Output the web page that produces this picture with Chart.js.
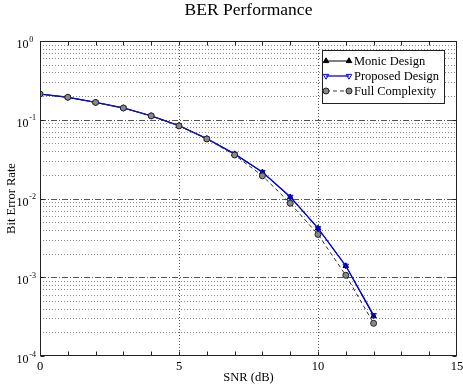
<!DOCTYPE html>
<html>
<head>
<meta charset="utf-8">
<script src="https://cdn.jsdelivr.net/npm/chart.js@4.4.1/dist/chart.umd.min.js"></script>
<style>
  html, body { margin: 0; padding: 0; background: #fff; }
  canvas { display: block; }
</style>
</head>
<body>
<canvas id="berChart" width="463" height="386"></canvas>
<script>
const snr = [0, 1, 2, 3, 4, 5, 6, 7, 8, 9, 10, 11, 12];
const monicBer = [0.212, 0.193, 0.166, 0.141, 0.112, 0.0839, 0.0574, 0.0367, 0.0215, 0.0104, 0.00418, 0.00139, 0.00032];
const proposedBer = [0.212, 0.193, 0.166, 0.141, 0.112, 0.0840, 0.0576, 0.0369, 0.0217, 0.0105, 0.00420, 0.00140, 0.00033];
const fullBer = [0.212, 0.193, 0.166, 0.141, 0.112, 0.0836, 0.0570, 0.0357, 0.0194, 0.0087, 0.00350, 0.00106, 0.00026];
const yExponents = [0, -1, -2, -3, -4];

const serif = "'Liberation Serif', 'Times New Roman', serif";

function toPoints(ys) {
  return snr.map((x, i) => ({ x: x, y: ys[i] }));
}

function hLine(ctx, x1, x2, y) {
  ctx.beginPath();
  ctx.moveTo(x1, y);
  ctx.lineTo(x2, y);
  ctx.stroke();
}

function vLine(ctx, x, y1, y2) {
  ctx.beginPath();
  ctx.moveTo(x, y1);
  ctx.lineTo(x, y2);
  ctx.stroke();
}

// matlab style grid, box, inward ticks and 10^n labels
const matlabAxes = {
  id: 'matlabAxes',
  beforeDatasetsDraw(chart) {
    const { ctx, chartArea: a, scales: { x, y } } = chart;
    ctx.save();
    ctx.lineWidth = 1;

    // minor log lines
    ctx.strokeStyle = '#8a8a8a';
    ctx.setLineDash([1, 2]);
    for (let e = -4; e < 0; e++) {
      for (let m = 2; m <= 9; m++) {
        const py = Math.round(y.getPixelForValue(m * Math.pow(10, e))) + 0.5;
        hLine(ctx, a.left, a.right, py);
      }
    }

    // decade lines
    ctx.strokeStyle = '#555';
    ctx.setLineDash([6, 2, 1, 2]);
    yExponents.forEach(e => {
      if (e === 0 || e === -4) return;
      const py = Math.round(y.getPixelForValue(Math.pow(10, e))) + 0.5;
      hLine(ctx, a.left, a.right, py);
    });

    // vertical major lines
    ctx.setLineDash([1, 2]);
    ctx.strokeStyle = '#555';
    x.ticks.forEach(t => {
      if (t.value <= x.min || t.value >= x.max) return;
      const px = Math.round(x.getPixelForValue(t.value)) + 0.5;
      vLine(ctx, px, a.top, a.bottom);
    });
    ctx.restore();
  },
  afterDatasetsDraw(chart) {
    const { ctx, chartArea: a, scales: { x, y } } = chart;
    ctx.save();
    ctx.setLineDash([]);
    ctx.strokeStyle = '#222';
    ctx.lineWidth = 1;
    const L = Math.round(a.left) + 0.5, R = Math.round(a.right) - 0.5;
    const T = Math.round(a.top) + 0.5, B = Math.round(a.bottom) - 0.5;
    ctx.strokeRect(L, T, R - L, B - T);

    // inward ticks
    for (let v = x.min + 1; v < x.max; v++) {
      const px = Math.round(x.getPixelForValue(v)) + 0.5;
      vLine(ctx, px, B, B - 4);
      vLine(ctx, px, T, T + 4);
    }
    yExponents.forEach(e => {
      const py = Math.round(y.getPixelForValue(Math.pow(10, e))) + 0.5;
      hLine(ctx, L, L + 4, py);
      hLine(ctx, R, R - 4, py);
    });

    // y labels 10^n
    ctx.fillStyle = '#000';
    ctx.textBaseline = 'alphabetic';
    yExponents.forEach(e => {
      const py = y.getPixelForValue(Math.pow(10, e));
      ctx.font = '12px ' + serif;
      ctx.textAlign = 'right';
      ctx.fillText('10', a.left - 11.5, py + 7);
      ctx.font = '8px ' + serif;
      ctx.textAlign = 'left';
      ctx.fillText(String(e), a.left - 10.7, py + 0.5);
    });
    ctx.restore();
  },
  afterDraw(chart) {
    const { ctx, chartArea: a } = chart;
    const bx = a.right - 135, by = a.top + 9, bw = 122, bh = 53;
    ctx.save();
    ctx.fillStyle = '#fff';
    ctx.fillRect(bx, by, bw, bh);
    ctx.strokeStyle = '#222';
    ctx.lineWidth = 1;
    ctx.setLineDash([]);
    ctx.strokeRect(Math.round(bx) + 0.5, Math.round(by) + 0.5, bw, bh);

    chart.data.datasets.forEach((ds, row) => {
      const ry = by + 11 + row * 15;
      const x1 = bx + 4, x2 = bx + 27;
      ctx.strokeStyle = ds.borderColor;
      ctx.lineWidth = ds.borderWidth;
      ctx.setLineDash(ds.borderDash || []);
      hLine(ctx, x1, x2, ry);
      ctx.setLineDash([]);
      [x1, x2].forEach(px => {
        ctx.fillStyle = ds.pointBackgroundColor;
        ctx.strokeStyle = ds.pointBorderColor;
        ctx.lineWidth = ds.pointBorderWidth;
        Chart.helpers.drawPoint(ctx, {
          pointStyle: ds.pointStyle,
          rotation: ds.pointRotation || 0,
          radius: ds.pointRadius,
          borderWidth: ds.pointBorderWidth
        }, px, ry);
      });
      ctx.fillStyle = '#000';
      ctx.font = '12.5px ' + serif;
      ctx.textAlign = 'left';
      ctx.textBaseline = 'middle';
      ctx.fillText(ds.label, bx + 32, ry + 0.5);
    });
    ctx.restore();
  }
};

const ctx = document.getElementById('berChart');
const berChart = new Chart(ctx, {
  type: 'line',
  data: {
    datasets: [
      {
        label: 'Monic Design',
        data: toPoints(monicBer),
        borderColor: '#000',
        backgroundColor: '#000',
        pointBackgroundColor: '#000',
        pointBorderColor: '#000',
        borderWidth: 1,
        pointStyle: 'triangle',
        pointRadius: 3.2,
        pointBorderWidth: 1,
        order: 3
      },
      {
        label: 'Proposed Design',
        data: toPoints(proposedBer),
        borderColor: '#0000ff',
        backgroundColor: 'rgba(255,255,255,0)',
        pointBackgroundColor: 'rgba(255,255,255,0)',
        pointBorderColor: '#0000ff',
        borderWidth: 1.3,
        pointStyle: 'triangle',
        pointRotation: 180,
        pointRadius: 3.2,
        pointBorderWidth: 1,
        order: 2
      },
      {
        label: 'Full Complexity',
        data: toPoints(fullBer),
        borderColor: '#333',
        backgroundColor: '#888',
        pointBackgroundColor: '#888',
        pointBorderColor: '#222',
        borderWidth: 1,
        borderDash: [4, 3],
        pointStyle: 'circle',
        pointRadius: 3,
        pointBorderWidth: 1,
        order: 1
      }
    ]
  },
  options: {
    responsive: false,
    animation: false,
    layout: { padding: { left: 0, right: 6, top: 0, bottom: 0 } },
    elements: { line: { tension: 0 } },
    plugins: {
      legend: { display: false },
      tooltip: { enabled: false },
      title: {
        display: true,
        text: 'BER Performance',
        fullSize: false,
        color: '#000',
        font: { family: serif, size: 17.5, weight: 'normal' },
        padding: { top: 0, bottom: 20 }
      }
    },
    scales: {
      x: {
        type: 'linear',
        min: 0,
        max: 15,
        grid: { display: false, drawTicks: false },
        border: { display: false },
        ticks: {
          stepSize: 5,
          color: '#000',
          padding: 3,
          maxRotation: 0,
          font: { family: serif, size: 12.5 }
        },
        title: {
          display: true,
          text: 'SNR (dB)',
          color: '#000',
          font: { family: serif, size: 12.5 },
          padding: { top: 0, bottom: 0.5 }
        },
        afterFit(s) { s.height = 30; s.paddingRight = 0; }
      },
      y: {
        type: 'logarithmic',
        min: 0.0001,
        max: 1,
        grid: { display: false, drawTicks: false },
        border: { display: false },
        ticks: { display: false },
        title: {
          display: true,
          text: 'Bit Error Rate',
          color: '#000',
          font: { family: serif, size: 12.5 },
          padding: { top: 4, bottom: 0 }
        },
        afterFit(s) { s.width = 40; }
      }
    }
  },
  plugins: [matlabAxes]
});
</script>
</body>
</html>
